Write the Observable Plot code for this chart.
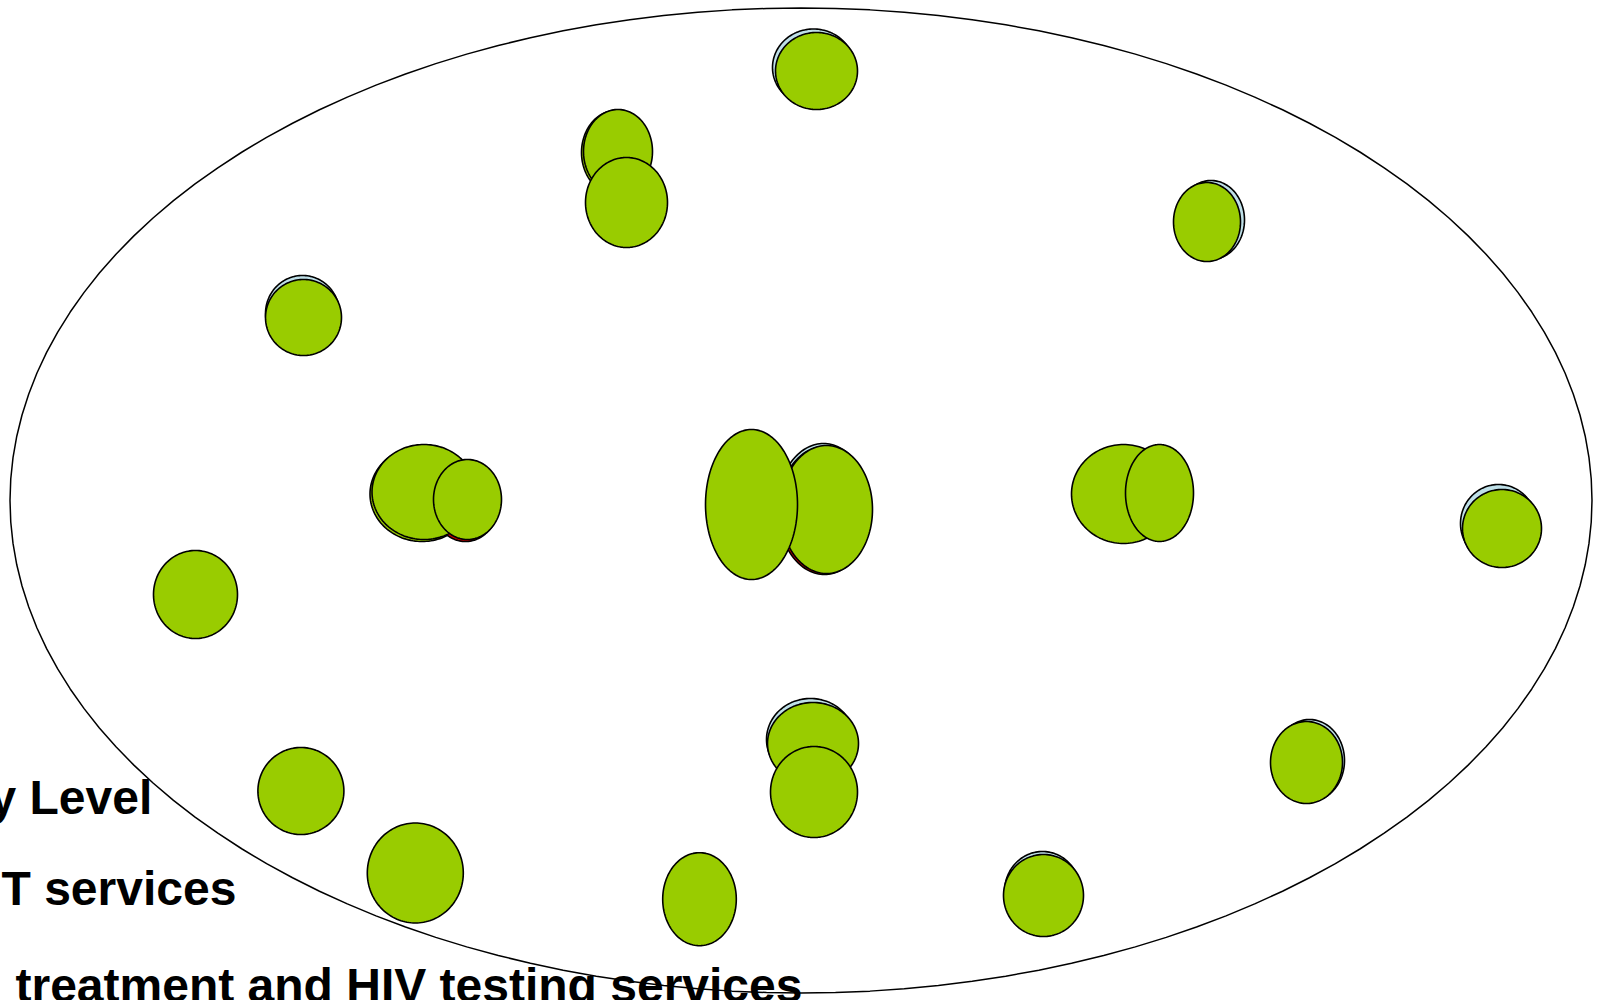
<!DOCTYPE html>
<html>
<head>
<meta charset="utf-8">
<script src="https://cdn.jsdelivr.net/npm/d3@7"></script>
<script src="https://cdn.jsdelivr.net/npm/@observablehq/plot@0.6"></script>
<style>
  html, body { margin: 0; padding: 0; background: #fff; overflow: hidden; }
  #chart svg { display: block; }
</style>
</head>
<body>
<div id="chart"></div>
<script>
// Outer boundary (community ellipse) in slide units
const outerCx = 800.5, outerCy = 500, outerRx = 791, outerRy = 492.5;

// Ellipses (service points), back layers first, in drawing order
const shapeCx   = [813, 816,   615.5, 617.5, 626,   1210.5, 1206.5,  302, 303,   421.5, 465, 423.5, 467,
                   823, 824, 826, 751,   1123, 1159,   1498, 1501.5,   195,   810, 812.5, 813.5,
                   1309, 1306,   300.4,  414.8,  699,   1042, 1043];
const shapeCy   = [67, 70.5,   152, 151, 202,   219.5, 221.5,  313, 317,   493.5, 501, 491.5, 499,
                   507, 510, 509, 504,   493.5, 492.5,   523, 528,   594,   739, 743, 791.5,
                   760, 762,   790.5,  872.5,  898.7,   891, 895];
const shapeRx   = [41, 41,   34.5, 34.5, 41,   33.5, 33.5,  37, 38,   52, 34, 52, 34,
                   46, 46, 46, 46,   52, 34,   38, 39.5,   42,   44, 45.5, 43.5,
                   35, 36,   43,  48,  36.8,   38, 40];
const shapeRy   = [38.5, 38.5,   42, 42, 45,   39.5, 39.5,  38, 38,   47.5, 40, 47.5, 40,
                   64, 64, 64, 75,   49.5, 48.5,   39, 39,   44,   41, 41, 45.5,
                   41, 41,   43.5,  50,  46.5,   40, 41];
const shapeFill = ["#bfe0e8", "#99cc00",   "#99cc00", "#99cc00", "#99cc00",   "#bfe0e8", "#99cc00",  "#bfe0e8", "#99cc00",
                   "#99cc00", "#cc0000", "#99cc00", "#99cc00",
                   "#bfe0e8", "#cc0000", "#99cc00", "#99cc00",   "#99cc00", "#99cc00",   "#bfe0e8", "#99cc00",   "#99cc00",
                   "#bfe0e8", "#99cc00", "#99cc00",   "#bfe0e8", "#99cc00",   "#99cc00",  "#99cc00",  "#99cc00",
                   "#bfe0e8", "#99cc00"];

// Text lines at the lower left
const labelText = ["y Level", "T services", "treatment and HIV testing services"];
const labelX = [-11, 1, 15];
const labelY = [813, 904, 1001];

// Build ellipse outlines (geometry from centre and radii)
const N = 144;
function outline(id, cx, cy, rx, ry, fill) {
  const pts = [];
  for (let k = 0; k < N; k++) {
    const t = (2 * Math.PI * k) / N;
    pts.push({id, x: cx + rx * Math.cos(t), y: cy + ry * Math.sin(t), fill});
  }
  return pts;
}
const shapes = shapeCx.flatMap((cx, i) => outline(i, cx, shapeCy[i], shapeRx[i], shapeRy[i], shapeFill[i]));
const outer = outline("outer", outerCx, outerCy, outerRx, outerRy, "none");
const labels = labelText.map((t, i) => ({t, x: labelX[i], y: labelY[i]}));

const chart = Plot.plot({
  width: 1602,
  height: 1000,
  margin: 0,
  style: {overflow: "hidden", background: "#fff"},
  x: {domain: [0, 1602], axis: null},
  y: {domain: [0, 1000], reverse: true, axis: null},
  color: {type: "identity"},
  marks: [
    Plot.text(labels, {x: "x", y: "y", text: "t", textAnchor: "start", lineAnchor: "bottom",
      fontSize: 48, fontWeight: "bold", fontFamily: "Liberation Sans, Arial, sans-serif", fill: "#000"}),
    Plot.line(outer, {x: "x", y: "y", z: "id", curve: "linear-closed", stroke: "#000", strokeWidth: 1.5, fill: "none"}),
    Plot.line(shapes, {x: "x", y: "y", z: "id", curve: "linear-closed", fill: "fill", stroke: "#000", strokeWidth: 1.6})
  ]
});
document.getElementById("chart").appendChild(chart);
</script>
</body>
</html>
